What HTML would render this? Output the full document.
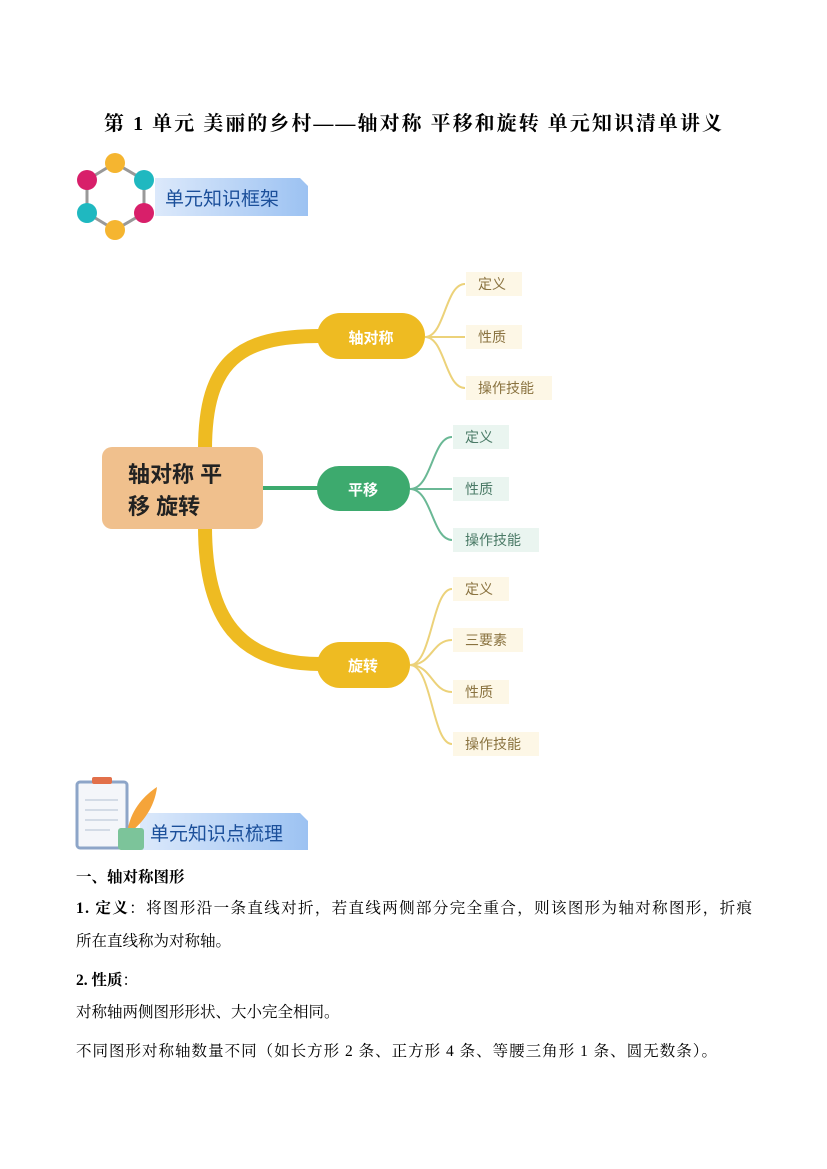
<!DOCTYPE html>
<html><head><meta charset="utf-8"><style>
html,body{margin:0;padding:0;background:#fff}
svg{display:block}
text{font-family:"Liberation Serif","Noto Serif CJK SC","Noto Sans CJK SC",serif}
.s{font-family:"Liberation Sans","Noto Sans CJK SC",sans-serif}
</style></head><body>
<svg width="827" height="1169" viewBox="0 0 827 1169" xmlns="http://www.w3.org/2000/svg">
<defs>
<linearGradient id="bn" x1="0" y1="0" x2="1" y2="0"><stop offset="0" stop-color="#dce9fb"/><stop offset="1" stop-color="#9cc2f2"/></linearGradient>
</defs>
<text x="413" y="130" text-anchor="middle" font-size="20" font-weight="bold" fill="#000" textLength="618">第 1 单元 美丽的乡村——轴对称 平移和旋转  单元知识清单讲义</text>

<!-- header 1 -->
<path d="M155 178 H300 L308 186 V216 H155 Z" fill="url(#bn)"/>
<g stroke="#999" stroke-width="3">
<line x1="115" y1="163" x2="87" y2="180"/><line x1="115" y1="163" x2="144" y2="180"/>
<line x1="87" y1="180" x2="87" y2="213"/><line x1="144" y1="180" x2="144" y2="213"/>
<line x1="87" y1="213" x2="115" y2="230"/><line x1="144" y1="213" x2="115" y2="230"/>
</g>
<circle cx="115" cy="163" r="10" fill="#f5b530"/><circle cx="87" cy="180" r="10" fill="#d81f6a"/>
<circle cx="144" cy="180" r="10" fill="#1fb8c0"/><circle cx="87" cy="213" r="10" fill="#1fb8c0"/>
<circle cx="144" cy="213" r="10" fill="#d81f6a"/><circle cx="115" cy="230" r="10" fill="#f5b530"/>
<text x="165" y="205" font-size="19" fill="#1b4f9a" class="s">单元知识框架</text>

<!-- mind map connectors -->
<path d="M205 450 C205 360 240 336 320 336" stroke="#eebb22" stroke-width="14" fill="none"/>
<path d="M205 526 C205 620 240 664 320 664" stroke="#eebb22" stroke-width="14" fill="none"/>
<line x1="262" y1="488" x2="320" y2="488" stroke="#3daa6e" stroke-width="4"/>
<g fill="none" stroke="#ecd27a" stroke-width="2">
<path d="M425 337 C445 337 445 284 465 284"/><path d="M425 337 H465"/><path d="M425 337 C445 337 445 388 465 388"/>
<path d="M410 665 C432 665 432 589 452 589"/><path d="M410 665 C432 665 432 640 452 640"/><path d="M410 665 C432 665 432 692 452 692"/><path d="M410 665 C432 665 432 744 452 744"/>
</g>
<g fill="none" stroke="#6ab895" stroke-width="2">
<path d="M410 489 C432 489 432 437 452 437"/><path d="M410 489 H452"/><path d="M410 489 C432 489 432 540 452 540"/>
</g>
<rect x="102" y="447" width="161" height="82" rx="10" fill="#f0c08d"/>
<text x="128" y="482" font-size="22" font-weight="bold" fill="#222" class="s">轴对称 平</text>
<text x="128" y="514" font-size="22" font-weight="bold" fill="#222" class="s">移 旋转</text>
<rect x="317" y="313" width="108" height="46" rx="23" fill="#eebb22"/>
<text x="371" y="343" text-anchor="middle" font-size="15" font-weight="bold" fill="#fff" class="s">轴对称</text>
<rect x="317" y="466" width="93" height="45" rx="22" fill="#3daa6e"/>
<text x="363" y="495" text-anchor="middle" font-size="15" font-weight="bold" fill="#fff" class="s">平移</text>
<rect x="317" y="642" width="93" height="46" rx="23" fill="#eebb22"/>
<text x="363" y="671" text-anchor="middle" font-size="15" font-weight="bold" fill="#fff" class="s">旋转</text>
<g class="s" font-size="14">
<rect x="466" y="272" width="56" height="24" fill="#fdf7e6"/><text x="478" y="289" fill="#8a7340" class="s">定义</text>
<rect x="466" y="325" width="56" height="24" fill="#fdf7e6"/><text x="478" y="342" fill="#8a7340" class="s">性质</text>
<rect x="466" y="376" width="86" height="24" fill="#fdf7e6"/><text x="478" y="393" fill="#8a7340" class="s">操作技能</text>
<rect x="453" y="425" width="56" height="24" fill="#eaf5f0"/><text x="465" y="442" fill="#4a7a66" class="s">定义</text>
<rect x="453" y="477" width="56" height="24" fill="#eaf5f0"/><text x="465" y="494" fill="#4a7a66" class="s">性质</text>
<rect x="453" y="528" width="86" height="24" fill="#eaf5f0"/><text x="465" y="545" fill="#4a7a66" class="s">操作技能</text>
<rect x="453" y="577" width="56" height="24" fill="#fdf7e6"/><text x="465" y="594" fill="#8a7340" class="s">定义</text>
<rect x="453" y="628" width="70" height="24" fill="#fdf7e6"/><text x="465" y="645" fill="#8a7340" class="s">三要素</text>
<rect x="453" y="680" width="56" height="24" fill="#fdf7e6"/><text x="465" y="697" fill="#8a7340" class="s">性质</text>
<rect x="453" y="732" width="86" height="24" fill="#fdf7e6"/><text x="465" y="749" fill="#8a7340" class="s">操作技能</text>
</g>

<!-- header 2 -->
<path d="M140 813 H300 L308 821 V850 H140 Z" fill="url(#bn)"/>
<rect x="77" y="782" width="50" height="66" rx="3" fill="#f4f6fa" stroke="#8da5c8" stroke-width="3"/>
<rect x="92" y="777" width="20" height="7" rx="2" fill="#e2704a"/>
<g stroke="#c8d2e0" stroke-width="1.5"><line x1="85" y1="800" x2="118" y2="800"/><line x1="85" y1="810" x2="118" y2="810"/><line x1="85" y1="820" x2="118" y2="820"/><line x1="85" y1="830" x2="110" y2="830"/></g>
<path d="M128 828 C132 808 145 795 157 787 C155 805 145 820 133 830 Z" fill="#f5a43a"/>
<rect x="118" y="828" width="26" height="22" rx="3" fill="#7cc49a"/>
<text x="150" y="840" font-size="19" fill="#1b4f9a" class="s">单元知识点梳理</text>

<!-- body -->
<text x="76" y="882" font-size="15.5" font-weight="bold" fill="#000">一、轴对称图形</text>
<text x="76" y="913" font-size="15.5" fill="#000" textLength="676"><tspan font-weight="bold">1. 定义</tspan>：将图形沿一条直线对折，若直线两侧部分完全重合，则该图形为轴对称图形，折痕</text>
<text x="76" y="946" font-size="15.5" fill="#000">所在直线称为对称轴。</text>
<text x="76" y="985" font-size="15.5" font-weight="bold" fill="#000">2. 性质<tspan font-weight="normal">：</tspan></text>
<text x="76" y="1017" font-size="15.5" fill="#000">对称轴两侧图形形状、大小完全相同。</text>
<text x="76" y="1056" font-size="15.5" fill="#000" textLength="641">不同图形对称轴数量不同（如长方形 2 条、正方形 4 条、等腰三角形 1 条、圆无数条）。</text>
</svg>
</body></html>
